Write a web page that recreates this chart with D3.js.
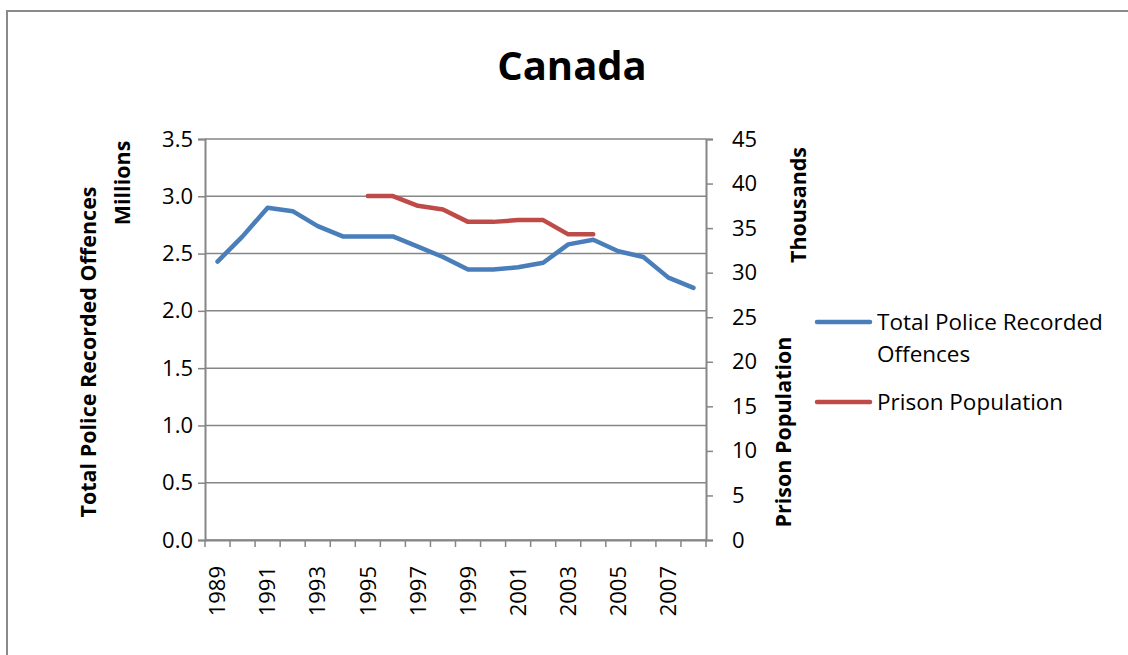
<!DOCTYPE html>
<html>
<head>
<meta charset="utf-8">
<script src="https://cdn.jsdelivr.net/npm/d3@7"></script>
<style>
    body { margin: 0; background: #fff; }
    text { font-family: "Open Sans", "Noto Sans", sans-serif; fill: #000; }
</style>
</head>
<body>
<div id="chart"></div>
<script>
// chart data
var years = d3.range(1989, 2009);
var offences = [2.43, 2.65, 2.90, 2.87, 2.74, 2.65, 2.65, 2.65, 2.56, 2.47,
                2.36, 2.36, 2.38, 2.42, 2.58, 2.62, 2.52, 2.47, 2.29, 2.20];
var prisonYears = d3.range(1995, 2005);
var prison = [38.6, 38.6, 37.5, 37.1, 35.7, 35.7, 35.9, 35.9, 34.3, 34.3];
var leftTicks = [0, 0.5, 1.0, 1.5, 2.0, 2.5, 3.0, 3.5];
var rightTicks = [0, 5, 10, 15, 20, 25, 30, 35, 40, 45];
var xLabels = [1989, 1991, 1993, 1995, 1997, 1999, 2001, 2003, 2005, 2007];

var svgWidth = 1128;
var svgHeight = 655;

//plot area
var plot = { left: 205, right: 706, top: 139, bottom: 540 };

var svg = d3.select("#chart")
    .append("svg")
    .attr("width", svgWidth)
    .attr("height", svgHeight);

//outer chart border
svg.append("rect")
    .attr("x", 7)
    .attr("y", 11)
    .attr("width", 1400)
    .attr("height", 1000)
    .attr("fill", "none")
    .attr("stroke", "#8a8a8a")
    .attr("stroke-width", 2);

//scales
var x = d3.scaleBand()
    .domain(years)
    .range([plot.left, plot.right]);

var yL = d3.scaleLinear()
    .domain([0, 3.5])
    .range([plot.bottom, plot.top]);

var yR = d3.scaleLinear()
    .domain([0, 45])
    .range([plot.bottom, plot.top]);

var gray = "#868686";

//gridlines
svg.append("g")
    .selectAll("line")
    .data(leftTicks)
    .enter()
    .append("line")
    .attr("x1", plot.left)
    .attr("x2", plot.right)
    .attr("y1", d => yL(d))
    .attr("y2", d => yL(d))
    .attr("stroke", gray)
    .attr("stroke-width", 1.5);

//left axis
var leftAxis = d3.axisLeft(yL)
    .tickValues(leftTicks)
    .tickFormat(d3.format(".1f"))
    .tickSize(7)
    .tickPadding(5);

var gLeft = svg.append("g")
    .attr("transform", `translate(${plot.left}, 0)`)
    .call(leftAxis);

//right axis
var rightAxis = d3.axisRight(yR)
    .tickValues(rightTicks)
    .tickSize(7)
    .tickPadding(19);

var gRight = svg.append("g")
    .attr("transform", `translate(${plot.right}, 0)`)
    .call(rightAxis);

//bottom axis, labels only on odd years
var bottomAxis = d3.axisBottom(x)
    .tickSize(0)
    .tickFormat(d => xLabels.includes(d) ? d : "");

var gBottom = svg.append("g")
    .attr("transform", `translate(0, ${plot.bottom})`)
    .call(bottomAxis);

//boundary ticks between categories
gBottom.selectAll(".bound")
    .data(d3.range(years.length + 1))
    .enter()
    .append("line")
    .attr("class", "bound")
    .attr("x1", i => plot.left + i * x.step())
    .attr("x2", i => plot.left + i * x.step())
    .attr("y1", 0)
    .attr("y2", 7)
    .attr("stroke", gray)
    .attr("stroke-width", 1.5);

[gLeft, gRight, gBottom].forEach(g => {
    g.select(".domain").attr("stroke", gray).attr("stroke-width", 2);
    g.selectAll(".tick line").attr("stroke", gray).attr("stroke-width", 1.5);
    g.selectAll("text")
        .style("font-family", "'Open Sans', sans-serif")
        .style("font-size", "22px")
        .attr("fill", "#000");
});

gBottom.selectAll("text")
    .attr("transform", "rotate(-90)")
    .attr("text-anchor", "end")
    .attr("x", -26)
    .attr("y", 0)
    .attr("dy", "0.35em");

//lines
var lineL = d3.line()
    .x((d, i) => x(years[i]) + x.bandwidth() / 2)
    .y(d => yL(d));

var lineR = d3.line()
    .x((d, i) => x(prisonYears[i]) + x.bandwidth() / 2)
    .y(d => yR(d));

svg.append("path")
    .datum(offences)
    .attr("d", lineL)
    .attr("fill", "none")
    .attr("stroke", "#4a7ebb")
    .attr("stroke-width", 4.5)
    .attr("stroke-linejoin", "round")
    .attr("stroke-linecap", "round");

svg.append("path")
    .datum(prison)
    .attr("d", lineR)
    .attr("fill", "none")
    .attr("stroke", "#be4b48")
    .attr("stroke-width", 4.5)
    .attr("stroke-linejoin", "round")
    .attr("stroke-linecap", "round");

//title
svg.append("text")
    .attr("x", 572)
    .attr("y", 80)
    .attr("text-anchor", "middle")
    .style("font-size", "40px")
    .style("font-weight", "bold")
    .text("Canada");

//axis titles
function vTitle(label, cx, cy) {
    svg.append("text")
        .attr("transform", `translate(${cx}, ${cy}) rotate(-90)`)
        .attr("text-anchor", "middle")
        .attr("dy", "0.35em")
        .style("font-size", "21.5px")
        .style("font-weight", "bold")
        .text(label);
}
vTitle("Total Police Recorded Offences", 88, 352);
vTitle("Millions", 122, 183);
vTitle("Thousands", 798, 205);
vTitle("Prison Population", 783, 432);

//legend
var legend = svg.append("g");
var legendItems = [
    { color: "#4a7ebb", lines: ["Total Police Recorded", "Offences"], y: 322 },
    { color: "#be4b48", lines: ["Prison Population"], y: 402 }
];
legendItems.forEach(item => {
    legend.append("line")
        .attr("x1", 817)
        .attr("x2", 870)
        .attr("y1", item.y)
        .attr("y2", item.y)
        .attr("stroke", item.color)
        .attr("stroke-width", 4.5)
        .attr("stroke-linecap", "round");
    item.lines.forEach((t, i) => {
        legend.append("text")
            .attr("x", 877)
            .attr("y", item.y + i * 32)
            .attr("dy", "0.35em")
            .style("font-size", "22.5px")
            .text(t);
    });
});
</script>
</body>
</html>
